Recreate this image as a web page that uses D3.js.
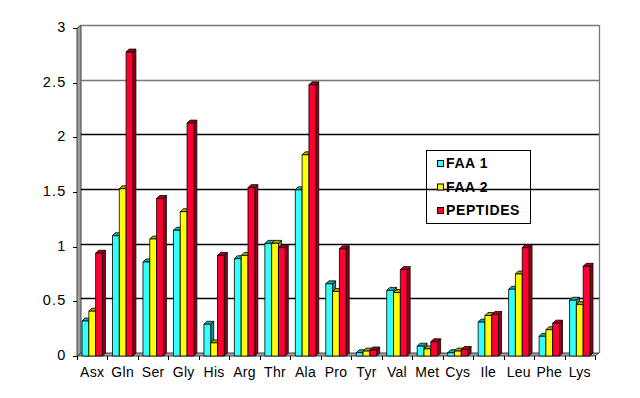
<!DOCTYPE html>
<html>
<head>
<meta charset="utf-8">
<script src="https://cdn.jsdelivr.net/npm/d3@7"></script>
<style>
  body { margin: 0; background: #fff; }
  svg { display: block; font-family: "Liberation Sans", Arial, sans-serif; }
</style>
</head>
<body>
<svg id="chart" width="640" height="398"></svg>
<script>
// data
var categories = ["Asx", "Gln", "Ser", "Gly", "His", "Arg", "Thr", "Ala", "Pro", "Tyr", "Val", "Met", "Cys", "Ile", "Leu", "Phe", "Lys"];
var seriesNames = ["FAA 1", "FAA 2", "PEPTIDES"];
var faa1 = [0.32, 1.10, 0.86, 1.15, 0.29, 0.89, 1.03, 1.52, 0.66, 0.03, 0.60, 0.09, 0.03, 0.31, 0.61, 0.18, 0.51];
var faa2 = [0.41, 1.53, 1.07, 1.32, 0.12, 0.92, 1.03, 1.84, 0.59, 0.045, 0.58, 0.065, 0.045, 0.37, 0.75, 0.24, 0.47];
var peptides = [0.94, 2.78, 1.44, 2.13, 0.92, 1.54, 0.99, 2.48, 0.98, 0.055, 0.79, 0.13, 0.06, 0.38, 0.99, 0.30, 0.82];
var yTicks = [0, 0.5, 1, 1.5, 2, 2.5, 3];

var seriesValues = [faa1, faa2, peptides];
var colors = ["#33FFFF", "#FFFF00", "#FF0033"];

var svg = d3.select("#chart");

// depth of the 3D walls and bars
var wallDx = 4, wallDy = -3;
var barDx = 3, barDy = -3;

var y = d3.scaleLinear().domain([0, 3]).range([353, 25]);
var x = d3.scaleBand().domain(categories).range([77, 595])
  .paddingInner(0.33).paddingOuter(0.165);
var x1 = d3.scaleBand().domain(seriesNames).range([0, x.bandwidth()]);

var left = 77, right = 595, bottomFront = y(0) - wallDy;

//Left wall
svg.append("polygon")
  .attr("points", [[left, y(3) - wallDy], [left + wallDx, y(3)], [left + wallDx, y(0)], [left, bottomFront]].join(" "))
  .style("fill", "#a0a0a0")
  .style("stroke", "#404040")
  .style("stroke-width", 1);

//Floor
svg.append("polygon")
  .attr("points", [[left, bottomFront], [left + wallDx, y(0)], [right + wallDx, y(0)], [right, bottomFront]].join(" "))
  .style("fill", "#a0a0a0")
  .style("stroke", "#404040")
  .style("stroke-width", 1);

//Grid lines on back wall
svg.append("g").selectAll("line").data(yTicks.slice(1)).enter().append("line")
  .attr("x1", left + wallDx)
  .attr("x2", right + wallDx)
  .attr("y1", function(d){ return Math.round(y(d)) + 0.5; })
  .attr("y2", function(d){ return Math.round(y(d)) + 0.5; })
  .style("stroke", function(d){ return d >= 2.5 ? "#777" : "#000"; })
  .style("stroke-width", 1.3);

//Right edge of back wall
svg.append("line")
  .attr("x1", right + wallDx + 0.5).attr("x2", right + wallDx + 0.5)
  .attr("y1", y(3)).attr("y2", y(0))
  .style("stroke", "#777")
  .style("stroke-width", 1.3);

//Y axis ticks and labels
var yAxis = svg.append("g");
yAxis.selectAll("line").data(yTicks).enter().append("line")
  .attr("x1", left - 4).attr("x2", left)
  .attr("y1", function(d){ return Math.round(y(d) - wallDy) + 0.5; })
  .attr("y2", function(d){ return Math.round(y(d) - wallDy) + 0.5; })
  .style("stroke", "#000");
yAxis.selectAll("text").data(yTicks).enter().append("text")
  .attr("x", 66.5)
  .attr("y", function(d){ return y(d) - wallDy - 1; })
  .attr("dy", "0.35em")
  .style("text-anchor", "end")
  .style("font-size", "14.5px")
  .style("letter-spacing", "1.2px")
  .text(function(d){ return d; });

//X axis ticks and labels
var bounds = categories.map(function(c){ return x(c) - x.step() * x.paddingInner() / 2; });
bounds.push(right);
bounds[0] = left;
svg.append("g").selectAll("line").data(bounds).enter().append("line")
  .attr("x1", function(d){ return Math.round(d) + 0.5; })
  .attr("x2", function(d){ return Math.round(d) + 0.5; })
  .attr("y1", bottomFront).attr("y2", bottomFront + 4)
  .style("stroke", "#000");
svg.append("g").selectAll("text").data(categories).enter().append("text")
  .attr("x", function(d){ return x(d) + x.bandwidth() / 2; })
  .attr("y", 377)
  .style("text-anchor", "middle")
  .style("font-size", "14px")
  .style("letter-spacing", "0.3px")
  .text(function(d){ return d; });

//Bars (drawn left to right so side faces overlap correctly)
var bars = [];
categories.forEach(function(c, i){
  seriesNames.forEach(function(s, j){
    bars.push({cat: c, series: s, value: seriesValues[j][i], color: colors[j]});
  });
});

var barG = svg.append("g");
bars.forEach(function(b){
  var x0 = x(b.cat) + x1(b.series), w = x1.bandwidth();
  var yTop = y(b.value) - barDy, yBot = bottomFront;
  var g = barG.append("g").style("stroke", "#000").style("stroke-width", 0.8).style("stroke-linejoin", "round");
  var c = d3.color(b.color);
  // side face
  g.append("polygon")
    .attr("points", [[x0 + w, yTop], [x0 + w + barDx, yTop + barDy], [x0 + w + barDx, yBot + barDy], [x0 + w, yBot]].join(" "))
    .style("fill", c.darker(1.6));
  // top face
  g.append("polygon")
    .attr("points", [[x0, yTop], [x0 + barDx, yTop + barDy], [x0 + w + barDx, yTop + barDy], [x0 + w, yTop]].join(" "))
    .style("fill", c.darker(1.2));
  // front face
  g.append("rect")
    .attr("x", x0).attr("y", yTop)
    .attr("width", w).attr("height", Math.max(0, yBot - yTop))
    .style("fill", b.color);
});

//Legend
var legend = svg.append("g").attr("transform", "translate(426,150)");
legend.append("rect")
  .attr("x", 0.5).attr("y", 0.5)
  .attr("width", 104).attr("height", 73)
  .style("fill", "none")
  .style("stroke", "#000");
seriesNames.forEach(function(s, i){
  var row = legend.append("g").attr("transform", "translate(0," + (13 + i * 23.5) + ")");
  row.append("rect")
    .attr("x", 11.5).attr("y", -2.5)
    .attr("width", 6).attr("height", 6)
    .style("fill", colors[i])
    .style("stroke", "#000");
  row.append("text")
    .attr("x", 20).attr("y", 0.5)
    .attr("dy", "0.35em")
    .style("font-size", "14px")
    .style("font-weight", "bold")
    .style("letter-spacing", "0.6px")
    .text(s);
});
</script>
</body>
</html>
